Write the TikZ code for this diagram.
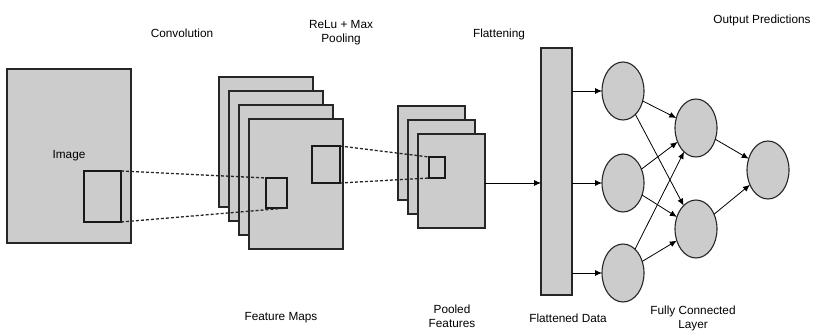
\documentclass[tikz,border=0pt]{standalone}
\usepackage{fontspec}
\setmainfont{Liberation Sans}
\usetikzlibrary{shapes.geometric,arrows.meta}

\begin{document}
\begin{tikzpicture}[x=1pt,y=-1pt,
  map/.style={draw=black!85, fill=black!20, line width=1.1pt, inner sep=0pt, outer sep=0pt},
  win/.style={draw=black!90, line width=1.1pt, inner sep=0pt, outer sep=0pt},
  neuron/.style={ellipse, draw=black!85, fill=black!20, line width=1.1pt,
    minimum width=42pt, minimum height=58pt, inner sep=0pt, outer sep=0pt},
  lbl/.style={font=\fontsize{11.8}{14}\selectfont, align=center},
  link/.style={-{Latex[length=7pt,width=6pt]}, line width=0.8pt},
  scan/.style={dashed, dash pattern=on 3pt off 2pt, line width=1.3pt, black!85}]
\useasboundingbox (0,0) rectangle (818,335);
% Image
\node[map, lbl, minimum width=124pt, minimum height=174pt] (img) at (69,156) {Image};
\node[win, minimum width=37pt, minimum height=51pt] (imgwin) at (102.5,196.5) {};
% Feature maps
\foreach \i in {0,...,3}
  \node[map, minimum width=94pt, minimum height=130pt] (fm\i) at (266+10*\i,142+14*\i) {};
\node[win, minimum width=21pt, minimum height=30pt] (fmwin) at (276.5,193) {};
\node[win, minimum width=28pt, minimum height=37pt] (fmwinb) at (326,164.5) {};
% Pooled features
\foreach \i in {0,...,2}
  \node[map, minimum width=67pt, minimum height=94pt] (pf\i) at (431.5+10*\i,153+14*\i) {};
\node[win, minimum width=16pt, minimum height=21pt] (pfwin) at (437,167.5) {};
% Convolution and pooling windows
\draw[scan] (imgwin.north east) -- (fmwin.north west);
\draw[scan] (imgwin.south east) -- (fmwin.south east);
\draw[scan] (fmwinb.north east) -- (pfwin.north west);
\draw[scan] (fmwinb.south east) -- (pfwin.south west);
% Flattened data
\node[map, minimum width=31pt, minimum height=247pt] (flat) at (556.5,171.5) {};
\draw[link] (pf2.east |- 0,183) coordinate (pfout) -- (flat.west |- pfout);
% Fully connected layer
\node[neuron] (in1) at (623,91) {};
\node[neuron] (in2) at (623,183) {};
\node[neuron] (in3) at (623,273) {};
\node[neuron] (hid1) at (696,128) {};
\node[neuron] (hid2) at (696,229) {};
\node[neuron] (out) at (768,170) {};
\foreach \i in {1,2,3} {
  \draw[link] (flat.east |- in\i) -- (in\i);
  \foreach \j in {1,2}
    \draw[link] (in\i) -- (hid\j);
}
\foreach \j in {1,2}
  \draw[link] (hid\j) -- (out);
% Labels
\node[lbl] (tconv) at (182,33) {Convolution};
\node[lbl] (tpool) at (341,33) {ReLu + Max\\Pooling};
\node[lbl] (tflat) at (499,34) {Flattening};
\node[lbl] (tout) at (762,20) {Output Predictions};
\node[lbl] (tfm) at (281,318) {Feature Maps};
\node[lbl] (tpf) at (452,316) {Pooled\\Features};
\node[lbl] (tfd) at (568,318) {Flattened Data};
\node[lbl] (tfc) at (693,318) {Fully Connected\\Layer};
\end{tikzpicture}
\end{document}
